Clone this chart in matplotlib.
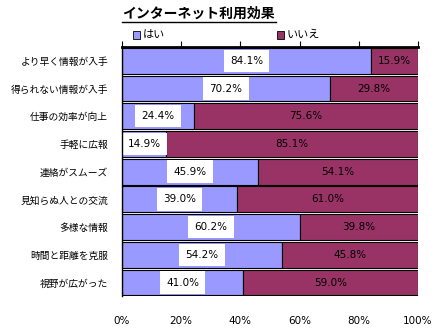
import matplotlib
matplotlib.use("Agg")
import matplotlib.pyplot as plt
from matplotlib.lines import Line2D
from matplotlib.patches import Rectangle

plt.rcParams['font.family'] = ['Noto Sans CJK JP', 'DejaVu Sans']

categories = ["より早く情報が入手", "得られない情報が入手", "仕事の効率が向上", "手軽に広報",
              "連絡がスムーズ", "見知らぬ人との交流", "多様な情報", "時間と距離を克服", "視野が広がった"]
yes = [84.1, 70.2, 24.4, 14.9, 45.9, 39.0, 60.2, 54.2, 41.0]
no = [15.9, 29.8, 75.6, 85.1, 54.1, 61.0, 39.8, 45.8, 59.0]
xticks = [0, 20, 40, 60, 80, 100]

blue = "#9999FF"
maroon = "#993366"

fig = plt.figure(figsize=(4.47, 3.33), dpi=100)
ax = fig.add_axes([0.273, 0.110, 0.662, 0.749])

pos = list(range(len(categories)))
ax.barh(pos, yes, height=0.93, color=blue, edgecolor="black", linewidth=0.8)
ax.barh(pos, no, left=yes, height=0.93, color=maroon, edgecolor="black", linewidth=0.8)

for i in pos:
    ax.text(yes[i] / 2, i, f"{yes[i]:.1f}%", ha="center", va="center", fontsize=7.5,
            family="DejaVu Sans",
            bbox=dict(facecolor="white", edgecolor="none", pad=4.5))
    ax.text(yes[i] + no[i] / 2, i, f"{no[i]:.1f}%", ha="center", va="center", fontsize=7.5,
            family="DejaVu Sans")

ax.set_xlim(0, 100)
ax.set_ylim(len(categories) - 0.5, -0.5)
ax.set_yticks(pos)
ax.set_yticklabels(categories, fontsize=7)
ax.tick_params(axis="y", length=0, pad=10)
ax.set_xticks(xticks)
ax.set_xticklabels([f"{t}%" for t in xticks], fontsize=7.5, family="DejaVu Sans")
ax.tick_params(axis="x", bottom=False, top=True, direction="out", length=4,
               labelbottom=True, labeltop=False, pad=10, width=0.8)
ax.spines["bottom"].set_visible(False)
ax.spines["right"].set_visible(False)
ax.spines["top"].set_linewidth(2)
ax.spines["left"].set_linewidth(1)
ax.spines["left"].set_zorder(5)

fig.text(0.273, 0.958, "インターネット利用効果", fontsize=10, fontweight="bold", ha="left", va="center")
fig.add_artist(Line2D([0.273, 0.617], [0.935, 0.935], color="black", linewidth=1))

fig.add_artist(Rectangle((0.297, 0.884), 0.016, 0.022, facecolor=blue, edgecolor="black", linewidth=0.6))
fig.text(0.320, 0.895, "はい", fontsize=8, ha="left", va="center")
fig.add_artist(Rectangle((0.619, 0.884), 0.016, 0.022, facecolor=maroon, edgecolor="black", linewidth=0.6))
fig.text(0.642, 0.895, "いいえ", fontsize=8, ha="left", va="center")

fig.savefig("out.png", dpi=100)
